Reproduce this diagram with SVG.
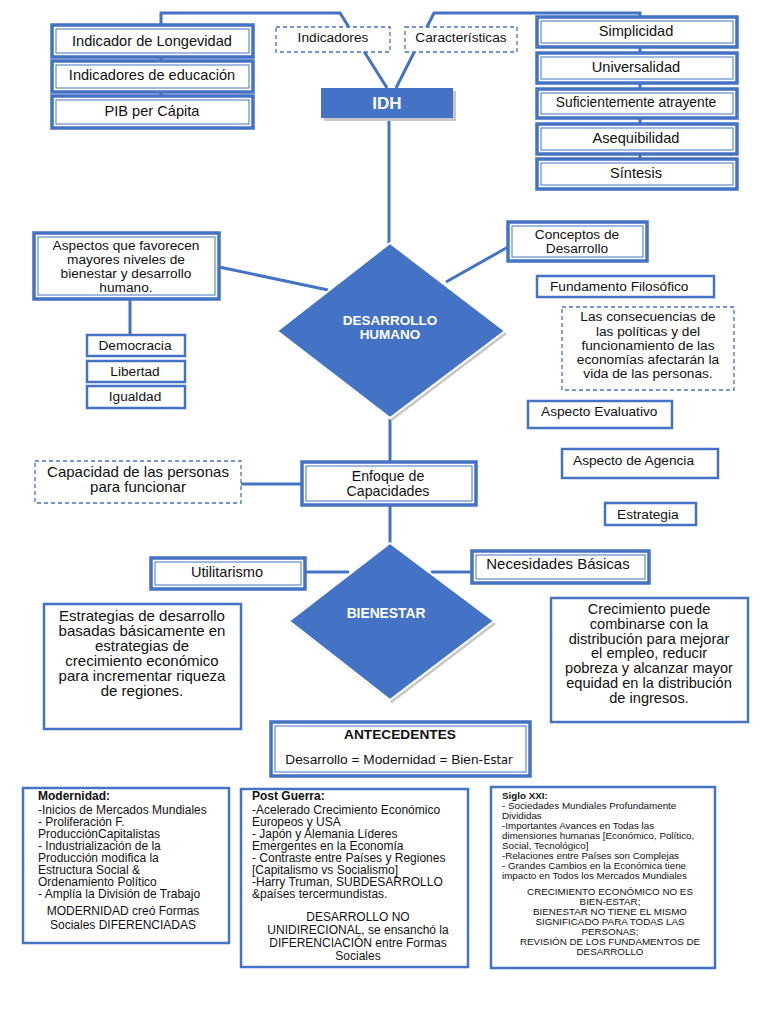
<svg xmlns="http://www.w3.org/2000/svg" width="768" height="1024" viewBox="0 0 768 1024">
<style>
text{font-family:"Liberation Sans",Arial,sans-serif;fill:#111;}
.c{text-anchor:middle;}
.f13{font-size:13.7px;}
.f145{font-size:14.6px;}
.f15{font-size:15px;}
.ob{fill:#fff;stroke:#4472C4;stroke-width:3.5;}
.ib{fill:none;stroke:#4472C4;stroke-width:1;}
.sb{fill:#fff;stroke:#4472C4;stroke-width:2.5;}
.db{fill:#fff;stroke:#4472C4;stroke-width:1.3;stroke-dasharray:4 3;}
.ln{fill:none;stroke:#4472C4;stroke-width:3;}
.wt{fill:#fff;font-weight:bold;}
.sm{font-size:12px;}
.xs{font-size:9.8px;}
</style>
<rect width="768" height="1024" fill="#fff"/>
<g id="connectors">
<polyline class="ln" points="161,26 161,13 340,13 387,88"/>
<polyline class="ln" points="396,88 434,13 640,13 640,17"/>
<line class="ln" x1="161" y1="57" x2="161" y2="61"/>
<line class="ln" x1="161" y1="92" x2="161" y2="97"/>
<line class="ln" x1="640" y1="47" x2="640" y2="53"/>
<line class="ln" x1="640" y1="83" x2="640" y2="89"/>
<line class="ln" x1="640" y1="118" x2="640" y2="124"/>
<line class="ln" x1="640" y1="154" x2="640" y2="159"/>
<line class="ln" x1="389" y1="118" x2="389" y2="245"/>
<line class="ln" x1="219" y1="267" x2="328" y2="290"/>
<line class="ln" x1="130" y1="299" x2="130" y2="335"/>
<line class="ln" x1="508" y1="247" x2="446" y2="282"/>
<line class="ln" x1="390" y1="418" x2="390" y2="462"/>
<line class="ln" x1="241" y1="484" x2="302" y2="484"/>
<line class="ln" x1="390" y1="505" x2="390" y2="544"/>
<line class="ln" x1="305" y1="572" x2="349" y2="572"/>
<line class="ln" x1="431" y1="572" x2="472" y2="572"/>
</g>
<g id="n-longevidad"><rect class="ob" x="52" y="25" width="201" height="32"/><rect class="ib" x="56" y="29" width="193" height="24"/><text class="c f145" x="152" y="46">Indicador de Longevidad</text></g>
<g id="n-educacion"><rect class="ob" x="52" y="61" width="201" height="31"/><rect class="ib" x="56" y="65" width="193" height="23"/><text class="c f145" x="152" y="80">Indicadores de educación</text></g>
<g id="n-pib"><rect class="ob" x="52" y="96" width="201" height="32"/><rect class="ib" x="56" y="100" width="193" height="24"/><text class="c f145" x="152" y="116">PIB per Cápita</text></g>
<g id="n-indicadores"><rect class="db" x="276" y="27" width="114" height="25"/><text class="c f13" x="333" y="42">Indicadores</text></g>
<g id="n-caracteristicas"><rect class="db" x="405" y="27" width="112" height="25"/><text class="c f13" x="461" y="42">Características</text></g>
<g id="n-simplicidad"><rect class="ob" x="537" y="17" width="200" height="30"/><rect class="ib" x="541" y="21" width="192" height="22"/><text class="c f145" x="636" y="36">Simplicidad</text></g>
<g id="n-universalidad"><rect class="ob" x="537" y="53" width="200" height="30"/><rect class="ib" x="541" y="57" width="192" height="22"/><text class="c f145" x="636" y="72">Universalidad</text></g>
<g id="n-suficiente"><rect class="ob" x="537" y="89" width="200" height="29"/><rect class="ib" x="541" y="93" width="192" height="21"/><text class="c" style="font-size:13.8px" x="636" y="107">Suficientemente atrayente</text></g>
<g id="n-asequibilidad"><rect class="ob" x="537" y="124" width="200" height="30"/><rect class="ib" x="541" y="128" width="192" height="22"/><text class="c f145" x="636" y="143">Asequibilidad</text></g>
<g id="n-sintesis"><rect class="ob" x="537" y="159" width="200" height="30"/><rect class="ib" x="541" y="163" width="192" height="22"/><text class="c f145" x="636" y="178">Síntesis</text></g>
<g id="n-idh"><rect x="324" y="91" width="132" height="30" fill="#C8C8C8"/><rect x="321" y="88" width="132" height="30" fill="#4472C4"/><text class="c wt" style="font-size:17px" x="387" y="109">IDH</text></g>
<g id="n-dh"><polygon points="392,246 507,334 392,421 280,334" fill="#C8C8C8"/><polygon points="390,243 505,331 390,418 277,331" fill="#4472C4" stroke="#fff" stroke-width="2"/><text class="c wt" style="font-size:13.5px" x="390" y="325">DESARROLLO</text><text class="c wt" style="font-size:13.5px" x="390" y="339">HUMANO</text></g>
<g id="n-aspectos"><rect class="ob" x="34" y="233" width="185" height="66"/><rect class="ib" x="38" y="237" width="177" height="58"/><text class="c f13" x="126" y="250">Aspectos que favorecen</text><text class="c f13" x="126" y="264">mayores niveles de</text><text class="c f13" x="126" y="278">bienestar y desarrollo</text><text class="c f13" x="126" y="292">humano.</text></g>
<g id="n-democracia"><rect class="sb" x="87" y="335" width="98" height="21"/><text class="c f13" x="135" y="350">Democracia</text></g>
<g id="n-libertad"><rect class="sb" x="87" y="361" width="98" height="21"/><text class="c f13" x="135" y="376">Libertad</text></g>
<g id="n-igualdad"><rect class="sb" x="87" y="386" width="98" height="22"/><text class="c f13" x="135" y="401">Igualdad</text></g>
<g id="n-conceptos"><rect class="ob" x="508" y="222" width="139" height="39"/><rect class="ib" x="512" y="226" width="131" height="31"/><text class="c f13" x="577" y="239">Conceptos de</text><text class="c f13" x="577" y="253">Desarrollo</text></g>
<g id="n-fundamento"><rect class="sb" x="537" y="276" width="177" height="21"/><text class="f13" x="550" y="291">Fundamento Filosófico</text></g>
<g id="n-consecuencias"><rect class="db" x="562" y="307" width="172" height="83"/><text class="c f13" x="648" y="321">Las consecuencias de</text><text class="c f13" x="648" y="336">las políticas y del</text><text class="c f13" x="648" y="350">funcionamiento de las</text><text class="c f13" x="648" y="364">economías afectarán la</text><text class="c f13" x="648" y="378">vida de las personas.</text></g>
<g id="n-evaluativo"><rect class="sb" x="528" y="401" width="144" height="27"/><text class="f13" x="541" y="416">Aspecto Evaluativo</text></g>
<g id="n-agencia"><rect class="sb" x="562" y="449" width="156" height="29"/><text class="f13" x="573" y="465">Aspecto de Agencia</text></g>
<g id="n-estrategia"><rect class="sb" x="605" y="503" width="91" height="22"/><text class="f13" x="617" y="519">Estrategia</text></g>
<g id="n-enfoque"><rect class="ob" x="302" y="462" width="174" height="43"/><rect class="ib" x="306" y="466" width="166" height="35"/><text class="c" style="font-size:14.2px" x="388" y="481">Enfoque de</text><text class="c" style="font-size:14.2px" x="388" y="495.5">Capacidades</text></g>
<g id="n-capacidad"><rect class="db" x="35" y="461" width="206" height="42"/><text class="c f15" x="138" y="477">Capacidad de las personas</text><text class="c f15" x="138" y="492">para funcionar</text></g>
<g id="n-bienestar"><polygon points="392,546 496,624 392,703 291,624" fill="#C8C8C8"/><polygon points="390,543 494,621 390,700 289,621" fill="#4472C4" stroke="#fff" stroke-width="2"/><text class="c wt" style="font-size:13.8px" x="386" y="618">BIENESTAR</text></g>
<g id="n-utilitarismo"><rect class="ob" x="151" y="558" width="154" height="31"/><rect class="ib" x="155" y="562" width="146" height="23"/><text class="c f145" x="227" y="577">Utilitarismo</text></g>
<g id="n-necesidades"><rect class="ob" x="472" y="551" width="177" height="32"/><rect class="ib" x="476" y="555" width="169" height="24"/><text class="c f15" x="558" y="569">Necesidades Básicas</text></g>
<g id="n-estrategias"><rect class="sb" x="44" y="604" width="197" height="125"/><text class="c f15" x="142" y="621">Estrategias de desarrollo</text><text class="c f15" x="142" y="636">basadas básicamente en</text><text class="c f15" x="142" y="651">estrategias de</text><text class="c f15" x="142" y="666">crecimiento económico</text><text class="c f15" x="142" y="681">para incrementar riqueza</text><text class="c f15" x="142" y="696">de regiones.</text></g>
<g id="n-crecimiento"><rect class="sb" x="551" y="598" width="197" height="124"/><text class="c" style="font-size:14.6px" x="649" y="614">Crecimiento puede</text><text class="c" style="font-size:14.6px" x="649" y="628.8">combinarse con la</text><text class="c" style="font-size:14.6px" x="649" y="643.6">distribución para mejorar</text><text class="c" style="font-size:14.6px" x="649" y="658.4">el empleo, reducir</text><text class="c" style="font-size:14.6px" x="649" y="673.2">pobreza y alcanzar mayor</text><text class="c" style="font-size:14.6px" x="649" y="688">equidad en la distribución</text><text class="c" style="font-size:14.6px" x="649" y="702.8">de ingresos.</text></g>
<g id="n-antecedentes"><rect class="ob" x="271" y="722" width="259" height="54"/><rect class="ib" x="275" y="726" width="251" height="46"/><text class="c f13" style="font-weight:bold" x="400" y="739">ANTECEDENTES</text><text class="c f13" x="399" y="764">Desarrollo = Modernidad = Bien-<tspan style="font-family:'DejaVu Sans',sans-serif;font-size:11.5px">Estar</tspan></text></g>
<g id="n-modernidad"><rect class="sb" x="23" y="788" width="206" height="155"/>
<text class="sm" x="38" y="800" style="font-weight:bold">Modernidad:</text>
<text class="sm" x="38" y="813.5">-Inicios de Mercados Mundiales</text>
<text class="sm" x="38" y="825.5">- Proliferación F.</text>
<text class="sm" x="38" y="837.5">ProducciónCapitalistas</text>
<text class="sm" x="38" y="849.5">- Industrialización de la</text>
<text class="sm" x="38" y="861.5">Producción modifica la</text>
<text class="sm" x="38" y="873.5">Estructura Social &amp;</text>
<text class="sm" x="38" y="885.5">Ordenamiento Político</text>
<text class="sm" x="38" y="897.5">- Amplía la División de Trabajo</text>
<text class="c sm" x="123" y="915">MODERNIDAD creó Formas</text>
<text class="c sm" x="123" y="929">Sociales DIFERENCIADAS</text></g>
<g id="n-postguerra"><rect class="sb" x="241" y="789" width="227" height="178"/>
<text class="sm" x="252" y="800" style="font-weight:bold">Post Guerra:</text>
<text class="sm" x="252" y="813.5">-Acelerado Crecimiento Económico</text>
<text class="sm" x="252" y="825.5">Europeos y USA</text>
<text class="sm" x="252" y="837.5">- Japón y Alemania Líderes</text>
<text class="sm" x="252" y="849.5">Emergentes en la Economía</text>
<text class="sm" x="252" y="861.5">- Contraste entre Países y Regiones</text>
<text class="sm" x="252" y="873.5">[Capitalismo vs Socialismo]</text>
<text class="sm" x="252" y="885.5">-Harry Truman, SUBDESARROLLO</text>
<text class="sm" x="252" y="897.5">&amp;países tercermundistas.</text>
<text class="c sm" x="358" y="921">DESARROLLO NO</text>
<text class="c sm" x="358" y="934">UNIDIRECIONAL, se ensanchó la</text>
<text class="c sm" x="358" y="947">DIFERENCIACIÓN entre Formas</text>
<text class="c sm" x="358" y="960">Sociales</text></g>
<g id="n-siglo"><rect class="sb" x="491" y="787" width="224" height="181"/>
<text class="xs" x="502" y="799" style="font-weight:bold">Siglo XXI:</text>
<text class="xs" x="502" y="809">- Sociedades Mundiales Profundamente</text>
<text class="xs" x="502" y="819">Divididas</text>
<text class="xs" x="502" y="829">-Importantes Avances en Todas las</text>
<text class="xs" x="502" y="839">dimensiones humanas [Económico, Político,</text>
<text class="xs" x="502" y="849">Social, Tecnológico]</text>
<text class="xs" x="502" y="859">-Relaciones entre Países son Complejas</text>
<text class="xs" x="502" y="869">- Grandes Cambios en la Económica tiene</text>
<text class="xs" x="502" y="879">impacto en Todos los Mercados Mundiales</text>
<text class="c xs" x="610" y="895">CRECIMIENTO ECONÓMICO NO ES</text>
<text class="c xs" x="610" y="905">BIEN-ESTAR;</text>
<text class="c xs" x="610" y="915">BIENESTAR NO TIENE EL MISMO</text>
<text class="c xs" x="610" y="925">SIGNIFICADO PARA TODAS LAS</text>
<text class="c xs" x="610" y="935">PERSONAS;</text>
<text class="c xs" x="610" y="945">REVISIÓN DE LOS FUNDAMENTOS DE</text>
<text class="c xs" x="610" y="955">DESARROLLO</text></g>
</svg>
